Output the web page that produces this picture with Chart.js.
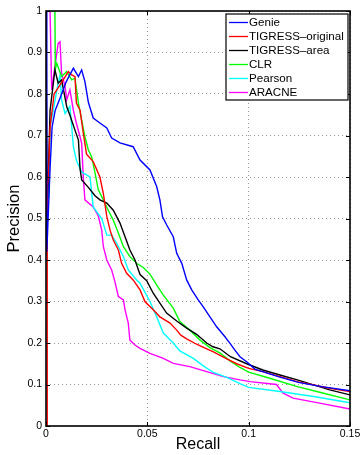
<!DOCTYPE html>
<html>
<head>
<meta charset="utf-8">
<script src="https://cdn.jsdelivr.net/npm/chart.js@4"></script>
<style>
  html, body { margin: 0; padding: 0; background: #fff; }
  canvas { display: block; }
</style>
</head>
<body>
<canvas id="prChart" width="363" height="455"></canvas>
<script>
// [recall, precision] pairs
const genie = [[0,1],[0.0004,0.42],[0.002,0.62],[0.003,0.72],[0.0045,0.76],[0.0069,0.79],[0.01,0.83],[0.0135,0.862],[0.016,0.842],[0.0176,0.858],[0.0192,0.83],[0.0209,0.78],[0.0233,0.742],[0.0266,0.73],[0.03,0.718],[0.0324,0.694],[0.0365,0.682],[0.043,0.673],[0.0464,0.641],[0.0513,0.617],[0.0546,0.577],[0.0562,0.545],[0.0575,0.504],[0.0595,0.485],[0.0628,0.456],[0.0645,0.416],[0.067,0.392],[0.0694,0.352],[0.0719,0.328],[0.0751,0.304],[0.0776,0.287],[0.0809,0.263],[0.0842,0.239],[0.0883,0.215],[0.0908,0.199],[0.0932,0.183],[0.0957,0.167],[0.099,0.155],[0.1031,0.137],[0.1146,0.119],[0.1245,0.105],[0.136,0.095],[0.15,0.085]];
const tigressOriginal = [[0,0],[0.0005,0],[0.0006,0.58],[0.0012,0.6],[0.002,0.72],[0.004,0.8],[0.0085,0.834],[0.011,0.854],[0.0127,0.846],[0.0143,0.842],[0.015,0.778],[0.0168,0.761],[0.0184,0.706],[0.02,0.655],[0.0233,0.637],[0.0266,0.6],[0.0283,0.56],[0.03,0.505],[0.0316,0.472],[0.0332,0.448],[0.0357,0.424],[0.0373,0.392],[0.0398,0.368],[0.043,0.352],[0.0464,0.328],[0.0488,0.3],[0.0529,0.28],[0.0562,0.263],[0.0612,0.248],[0.0645,0.231],[0.0665,0.219],[0.0694,0.21],[0.0743,0.197],[0.0793,0.186],[0.0824,0.179],[0.0892,0.162],[0.0941,0.15],[0.1,0.139],[0.107,0.131],[0.1154,0.119],[0.124,0.107],[0.132,0.099],[0.14,0.091],[0.15,0.083]];
const tigressArea = [[0,1],[0.0006,0.5],[0.002,0.76],[0.0044,0.858],[0.006,0.826],[0.0077,0.834],[0.0102,0.77],[0.0118,0.749],[0.0143,0.713],[0.016,0.689],[0.0168,0.62],[0.0176,0.593],[0.0209,0.575],[0.0242,0.555],[0.0266,0.545],[0.03,0.537],[0.0332,0.52],[0.0365,0.489],[0.039,0.456],[0.0414,0.424],[0.0439,0.4],[0.0464,0.365],[0.0497,0.35],[0.0529,0.32],[0.0562,0.296],[0.0595,0.272],[0.0645,0.253],[0.0694,0.236],[0.0743,0.221],[0.0793,0.2],[0.0824,0.191],[0.0858,0.186],[0.091,0.167],[0.099,0.15],[0.107,0.135],[0.1154,0.123],[0.124,0.111],[0.132,0.099],[0.14,0.087],[0.15,0.075]];
const clr = [[0.001,1],[0.0044,1],[0.0046,0.86],[0.0053,0.874],[0.0077,0.842],[0.0102,0.854],[0.0127,0.834],[0.0143,0.838],[0.016,0.778],[0.0176,0.737],[0.0192,0.697],[0.0209,0.665],[0.0225,0.649],[0.0242,0.61],[0.0258,0.569],[0.0283,0.545],[0.0307,0.52],[0.0332,0.496],[0.0357,0.465],[0.0382,0.432],[0.0414,0.408],[0.0447,0.392],[0.048,0.382],[0.0513,0.366],[0.0546,0.34],[0.0578,0.316],[0.0628,0.284],[0.066,0.252],[0.071,0.231],[0.076,0.207],[0.0809,0.189],[0.0858,0.176],[0.0908,0.157],[0.0957,0.141],[0.1,0.13],[0.1104,0.115],[0.124,0.095],[0.137,0.079],[0.15,0.063]];
const pearson = [[0.0015,0.55],[0.002,0.72],[0.0036,0.761],[0.006,0.826],[0.0069,0.845],[0.0077,0.786],[0.0094,0.753],[0.0118,0.77],[0.0127,0.721],[0.0135,0.673],[0.015,0.64],[0.0176,0.612],[0.0217,0.6],[0.0233,0.528],[0.0275,0.5],[0.03,0.46],[0.0324,0.46],[0.0349,0.44],[0.0382,0.408],[0.0406,0.376],[0.0447,0.352],[0.0464,0.344],[0.0513,0.3],[0.0546,0.263],[0.0579,0.224],[0.0628,0.2],[0.066,0.181],[0.0727,0.163],[0.0776,0.145],[0.0826,0.129],[0.0892,0.117],[0.0957,0.102],[0.1,0.093],[0.1154,0.083],[0.132,0.071],[0.15,0.056]];
const aracne = [[0.0015,1],[0.002,1],[0.0028,0.81],[0.0044,0.866],[0.006,0.922],[0.0069,0.926],[0.0077,0.85],[0.0094,0.818],[0.0102,0.786],[0.0118,0.81],[0.0135,0.761],[0.015,0.729],[0.0168,0.697],[0.0176,0.681],[0.0184,0.6],[0.0192,0.545],[0.0233,0.528],[0.0258,0.506],[0.0275,0.472],[0.0283,0.432],[0.03,0.4],[0.0324,0.376],[0.034,0.348],[0.0357,0.312],[0.0382,0.304],[0.039,0.28],[0.0406,0.248],[0.0414,0.207],[0.0439,0.195],[0.0464,0.187],[0.0513,0.175],[0.0579,0.163],[0.0628,0.151],[0.071,0.143],[0.0793,0.131],[0.0875,0.119],[0.0957,0.111],[0.1007,0.107],[0.1137,0.1],[0.117,0.079],[0.1219,0.067],[0.135,0.055],[0.15,0.041]];

const seriesNames = ['Genie', 'TIGRESS\u2013original', 'TIGRESS\u2013area', 'CLR', 'Pearson', 'ARACNE'];
const seriesData = [genie, tigressOriginal, tigressArea, clr, pearson, aracne];
const seriesColors = ['#0000ff', '#ff0000', '#000000', '#00ff00', '#00ffff', '#ff00ff'];

Chart.defaults.font.family = "'Liberation Sans', Arial, sans-serif";
Chart.defaults.color = '#000';

const tickText = v => String(parseFloat(Number(v).toFixed(3)));

// matlab style box, inward ticks and the legend in the top right corner
const matlabFrame = {
    id: 'matlabFrame',
    afterDatasetsDraw(chart) {
        const { ctx, chartArea: a, scales: { x, y } } = chart;
        ctx.save();
        ctx.strokeStyle = '#000';
        ctx.lineWidth = 1;
        ctx.beginPath();
        x.ticks.forEach(t => {
            const px = Math.round(x.getPixelForValue(t.value)) + 0.5;
            ctx.moveTo(px, a.bottom); ctx.lineTo(px, a.bottom - 4);
            ctx.moveTo(px, a.top); ctx.lineTo(px, a.top + 4);
        });
        y.ticks.forEach(t => {
            const py = Math.round(y.getPixelForValue(t.value)) + 0.5;
            ctx.moveTo(a.left, py); ctx.lineTo(a.left + 4, py);
            ctx.moveTo(a.right, py); ctx.lineTo(a.right - 4, py);
        });
        ctx.stroke();
        ctx.lineWidth = 1.6;
        ctx.strokeRect(a.left, a.top, a.right - a.left, a.bottom - a.top);

        // legend
        const bx = 226, by = 14, bw = 122, bh = 86;
        ctx.fillStyle = '#fff';
        ctx.fillRect(bx, by, bw, bh);
        ctx.lineWidth = 1.2;
        ctx.strokeRect(bx, by, bw, bh);
        ctx.font = "11.6px 'Liberation Sans', Arial, sans-serif";
        ctx.textBaseline = 'middle';
        chart.data.datasets.forEach((ds, i) => {
            const ry = by + 8.5 + i * 14;
            ctx.strokeStyle = ds.borderColor;
            ctx.lineWidth = 1.3;
            ctx.beginPath();
            ctx.moveTo(bx + 3, ry); ctx.lineTo(bx + 22, ry);
            ctx.stroke();
            ctx.fillStyle = '#000';
            ctx.fillText(ds.label, bx + 23, ry);
        });
        ctx.restore();
    }
};

const ctx = document.getElementById('prChart').getContext('2d');
new Chart(ctx, {
    type: 'line',
    data: {
        datasets: seriesData.map((pts, i) => ({
            label: seriesNames[i],
            data: pts.map(p => ({ x: p[0], y: p[1] })),
            borderColor: seriesColors[i],
            backgroundColor: seriesColors[i],
            borderWidth: 1.4,
            pointRadius: 0,
            tension: 0,
            fill: false
        }))
    },
    options: {
        responsive: false,
        animation: false,
        devicePixelRatio: 1,
        layout: { padding: { left: 0, right: 13, top: 11, bottom: 0 } },
        plugins: {
            legend: { display: false },
            tooltip: { enabled: false }
        },
        scales: {
            x: {
                type: 'linear',
                min: 0,
                max: 0.15,
                ticks: { stepSize: 0.05, padding: 2, font: { size: 10.5 }, callback: tickText },
                grid: { color: '#999', drawTicks: false },
                border: { display: false, dash: [1, 3] },
                title: { display: true, text: 'Recall', font: { size: 16 }, padding: { top: 0, bottom: 1 } },
                afterFit(scale) { scale.height = 29; }
            },
            y: {
                min: 0,
                max: 1,
                ticks: { stepSize: 0.1, padding: 4, font: { size: 10.5 }, callback: tickText },
                grid: { color: '#999', drawTicks: false },
                border: { display: false, dash: [1, 3] },
                title: { display: true, text: 'Precision', font: { size: 16.5 }, padding: { top: 5, bottom: 0 } },
                afterFit(scale) { scale.width = 46; }
            }
        }
    },
    plugins: [matlabFrame]
});
</script>
</body>
</html>
